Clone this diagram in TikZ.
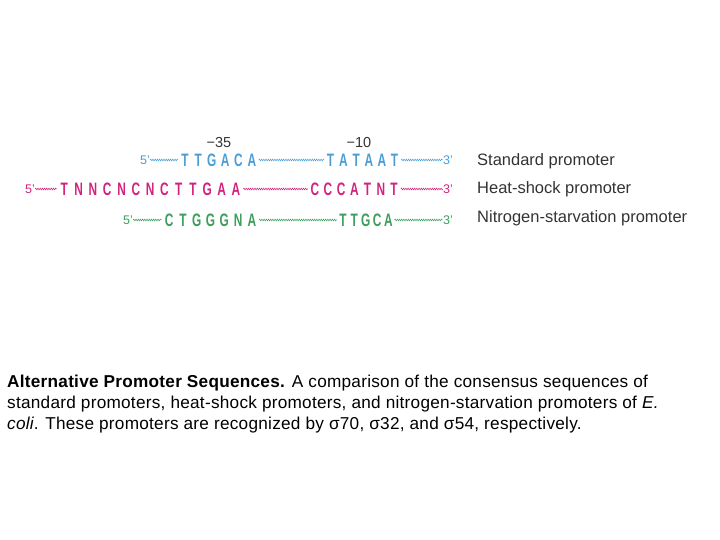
\documentclass[tikz,border=0pt]{standalone}
\usepackage{fontspec}
\usepackage{graphicx}
\setmainfont{Liberation Sans}
\newfontfamily\capfont[LetterSpace=1.5]{Liberation Sans}
\usetikzlibrary{decorations.pathmorphing}
\definecolor{stdblue}{HTML}{4A9DD6}
\definecolor{hsmag}{HTML}{D3227C}
\definecolor{nsgreen}{HTML}{3C9E5A}
\definecolor{labgray}{HTML}{333333}
\newlength\cellw
\def\seqloop#1{\ifx#1\relax\else\makebox[\cellw][c]{\scalebox{0.66}[1]{#1}}\expandafter\seqloop\fi}
\newcommand\seqtext[2]{\setlength\cellw{#1}\seqloop#2\relax}
\tikzset{
  seqbox/.style={anchor=west,inner sep=0pt,font=\fontsize{18}{18}\selectfont\bfseries},
  endbox/.style={anchor=west,inner sep=0pt,font=\fontsize{12.5}{13}\selectfont},
  wave/.style={decorate,decoration={snake,amplitude=0.9pt,segment length=2.2pt},line width=0.5pt},
  labbox/.style={anchor=west,inner sep=0pt,text=labgray,font=\fontsize{16.5}{18}\selectfont},
  posbox/.style={inner sep=0pt,text=black!80,font=\fontsize{14.5}{15}\selectfont},
}
\begin{document}
\begin{tikzpicture}[x=1pt,y=-1pt]
\useasboundingbox (0,0) rectangle (720,540);
% row 1 standard
\begin{scope}[every node/.append style={text=stdblue},stdblue]
\node[endbox] (a5) at (140,160) {5'};
\node[seqbox] (a1) at (178,160) {\seqtext{13.4pt}{TTGACA}};
\node[seqbox] (a2) at (324,160) {\seqtext{12.8pt}{TATAAT}};
\node[endbox] (a3) at (443,160) {3'};
\draw[wave] (a5.east) -- (a1.west);
\draw[wave] (a1.east) -- (a2.west);
\draw[wave] (a2.east) -- (a3.west);
\end{scope}
% row 2 heat shock
\begin{scope}[every node/.append style={text=hsmag},hsmag]
\node[endbox] (b5) at (25,189) {5'};
\node[seqbox] (b1) at (57,189) {\seqtext{14.3pt}{TNNCNCNCTTGAA}};
\node[seqbox] (b2) at (308,189) {\seqtext{13.2pt}{CCCATNT}};
\node[endbox] (b3) at (443,189) {3'};
\draw[wave] (b5.east) -- (b1.west);
\draw[wave] (b1.east) -- (b2.west);
\draw[wave] (b2.east) -- (b3.west);
\end{scope}
% row 3 nitrogen starvation
\begin{scope}[every node/.append style={text=nsgreen},nsgreen]
\node[endbox] (c5) at (123,220) {5'};
\node[seqbox] (c1) at (162,220) {\seqtext{13.8pt}{CTGGGNA}};
\node[seqbox] (c2) at (337,220) {\seqtext{11.4pt}{TTGCA}};
\node[endbox] (c3) at (443,220) {3'};
\draw[wave] (c5.east) -- (c1.west);
\draw[wave] (c1.east) -- (c2.west);
\draw[wave] (c2.east) -- (c3.west);
\end{scope}
% positions
\node[posbox] (m35) at (219,143) {−35};
\node[posbox] (m10) at (359,143) {−10};
% labels
\node[labbox] (l1) at (477,161) {Standard promoter};
\node[labbox] (l2) at (477,189) {Heat-shock promoter};
\node[labbox] (l3) at (477,218) {Nitrogen-starvation promoter};
% caption
\node[anchor=north west,inner sep=0pt,align=left,font=\capfont\fontsize{17.2}{21}\selectfont] (cap) at (7,375)
{\textbf{Alternative Promoter Sequences.} A comparison of the consensus sequences of\\
standard promoters, heat-shock promoters, and nitrogen-starvation promoters of \textit{E.}\\
\textit{coli}. These promoters are recognized by σ70, σ32, and σ54, respectively.};
\end{tikzpicture}
\end{document}
